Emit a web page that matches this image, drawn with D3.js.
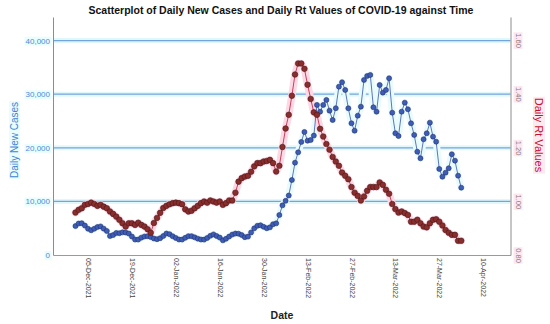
<!DOCTYPE html>
<html>
<head>
<meta charset="utf-8">
<script src="https://cdn.jsdelivr.net/npm/d3@7"></script>
<style>
  body { margin: 0; background: #fff; }
  svg { display: block; font-family: "Liberation Sans", Arial, sans-serif; }
</style>
</head>
<body>
<div id="chart"></div>
<script>
// Data, one value per day starting 01-Dec-2021
const startDate = "2021-12-01";

const dailyCases = [
  5400, 5870, 5930, 5490, 4900, 4620, 4900, 5220, 5330, 4920,
  4480, 3545, 3720, 4110, 4070, 4230, 4200, 4000, 3440, 2880,
  2880, 3240, 3460, 3510, 3350, 3080, 2950, 3140, 3545, 4010,
  3880, 3500, 3180, 2890, 2880, 3210, 3520, 3520, 3290, 3050,
  2890, 2870, 3180, 3580, 3840, 3550, 3250, 2740, 3030, 3440,
  3810, 4000, 3970, 3720, 3330, 3430, 4210, 4970, 5450, 5550,
  5250, 4990, 5160, 5740, 5900, 7460, 9260, 10100, 11100, 13990,
  17220, 19160, 21090, 22950, 21330, 21460, 22270, 28000, 26740, 28000,
  28930, 26930, 25190, 27380, 31400, 32225, 30790, 27370, 24575, 23195,
  25990, 27670, 32655, 33400, 33590, 27560, 26740, 31720, 30290, 30790,
  32970, 26550, 22710, 22205, 26740, 28420, 27190, 24575, 22400, 19275,
  18040, 21590, 22710, 24690, 22075, 21140, 16050, 14610, 15360, 16180,
  18790, 17600, 14800, 12560
];

const dailyRt = [
  0.958, 0.968, 0.974, 0.987, 0.990, 0.995, 0.990, 0.983, 0.987, 0.980,
  0.974, 0.962, 0.953, 0.943, 0.931, 0.918, 0.906, 0.918, 0.918, 0.912,
  0.920, 0.912, 0.906, 0.896, 0.883, 0.919, 0.938, 0.957, 0.975, 0.983,
  0.989, 0.993, 0.995, 0.993, 0.989, 0.970, 0.962, 0.965, 0.974, 0.983,
  0.993, 0.999, 0.995, 1.003, 0.999, 0.995, 0.999, 0.987, 0.993, 1.003,
  1.003, 1.032, 1.073, 1.086, 1.092, 1.095, 1.110, 1.130, 1.142, 1.142,
  1.148, 1.150, 1.154, 1.142, 1.111, 1.132, 1.202, 1.271, 1.322, 1.393,
  1.472, 1.513, 1.513, 1.493, 1.434, 1.381, 1.331, 1.322, 1.270, 1.241,
  1.213, 1.192, 1.165, 1.148, 1.132, 1.107, 1.095, 1.082, 1.053, 1.032,
  1.020, 1.003, 1.018, 1.039, 1.053, 1.053, 1.053, 1.070, 1.061, 1.043,
  1.028, 0.990, 0.971, 0.958, 0.962, 0.956, 0.949, 0.924, 0.924, 0.931,
  0.918, 0.906, 0.903, 0.918, 0.931, 0.933, 0.924, 0.910, 0.893, 0.883,
  0.875, 0.875, 0.853, 0.853
];

const dateTicks = [
  "05-Dec-2021", "19-Dec-2021", "02-Jan-2022", "16-Jan-2022", "30-Jan-2022",
  "13-Feb-2022", "27-Feb-2022", "13-Mar-2022", "27-Mar-2022", "10-Apr-2022"
];
const casesTicks = [0, 10000, 20000, 30000, 40000];
const rtTicks = [0.8, 1.0, 1.2, 1.4, 1.6];
const xDomain = ["2021-11-23T20:00", "2022-04-18T17:00"];
const casesDomain = [0, 44400];
const rtDomain = [0.8, 1.686];

function draw() {
  const dimensions = {
    width: 550,
    height: 324,
    margins: { top: 17, right: 39.5, bottom: 69, left: 53 },
  };
  const m = dimensions.margins;
  const bottom = dimensions.height - m.bottom;
  const right = dimensions.width - m.right;

  const parseTick = d3.utcParse("%d-%b-%Y");
  const parseIso = d3.utcParse("%Y-%m-%dT%H:%M");
  const day0 = d3.utcParse("%Y-%m-%d")(startDate);

  const rows = dailyCases.map((c, i) => ({
    date: d3.utcDay.offset(day0, i),
    cases: c,
    rt: dailyRt[i],
  }));

  const svg = d3
    .select("#chart")
    .append("svg")
    .attr("width", dimensions.width)
    .attr("height", dimensions.height);

  const xScale = d3
    .scaleUtc()
    .domain(xDomain.map(parseIso))
    .range([m.left, right]);
  const yCases = d3.scaleLinear().domain(casesDomain).range([bottom, m.top]);
  const yRt = d3.scaleLinear().domain(rtDomain).range([bottom, m.top]);

  // gridlines with their pale halo
  const grid = svg.append("g");
  casesTicks.slice(1).forEach((t) => {
    grid
      .append("line")
      .attr("x1", m.left).attr("x2", right)
      .attr("y1", yCases(t)).attr("y2", yCases(t))
      .attr("stroke", "#e0f8fb")
      .attr("stroke-width", 5);
  });
  casesTicks.slice(1).forEach((t) => {
    grid
      .append("line")
      .attr("x1", m.left).attr("x2", right)
      .attr("y1", yCases(t)).attr("y2", yCases(t))
      .attr("stroke", "#74a4dc")
      .attr("stroke-width", 1.2);
  });

  const caseLine = d3.line().x((d) => xScale(d.date)).y((d) => yCases(d.cases));
  const rtLine = d3.line().x((d) => xScale(d.date)).y((d) => yRt(d.rt));

  // halos
  svg.append("path")
    .datum(rows)
    .attr("d", caseLine)
    .attr("fill", "none")
    .attr("stroke", "#e8fbfd")
    .attr("stroke-width", 7)
    .attr("stroke-linejoin", "round")
    .attr("stroke-linecap", "round");
  svg.append("path")
    .datum(rows)
    .attr("d", rtLine)
    .attr("fill", "none")
    .attr("stroke", "#fdd9e6")
    .attr("stroke-width", 7.5)
    .attr("stroke-linejoin", "round")
    .attr("stroke-linecap", "round");

  // cases series
  svg.append("path")
    .datum(rows)
    .attr("d", caseLine)
    .attr("fill", "none")
    .attr("stroke", "#4b66b8")
    .attr("stroke-width", 0.9);
  svg.append("g")
    .selectAll("circle")
    .data(rows)
    .join("circle")
    .attr("cx", (d) => xScale(d.date))
    .attr("cy", (d) => yCases(d.cases))
    .attr("r", 2.5)
    .attr("fill", "#3e5db6")
    .attr("stroke", "#23306e")
    .attr("stroke-width", 0.6);

  // Rt series
  svg.append("path")
    .datum(rows)
    .attr("d", rtLine)
    .attr("fill", "none")
    .attr("stroke", "#c52a46")
    .attr("stroke-width", 0.9);
  svg.append("g")
    .selectAll("circle")
    .data(rows)
    .join("circle")
    .attr("cx", (d) => xScale(d.date))
    .attr("cy", (d) => yRt(d.rt))
    .attr("r", 2.8)
    .attr("fill", "#8a2d2d")
    .attr("stroke", "#4a1717")
    .attr("stroke-width", 0.6);

  // light box behind a label, like the reference has
  const addBg = (sel, color) => {
    sel.each(function () {
      const node = this;
      const b = node.getBBox();
      d3.select(node.parentNode)
        .insert("rect", () => node)
        .attr("x", b.x - 1).attr("y", b.y)
        .attr("width", b.width + 2).attr("height", b.height)
        .attr("transform", d3.select(node).attr("transform"))
        .attr("fill", color);
    });
  };

  // axes
  const leftAxis = svg
    .append("g")
    .attr("transform", `translate(${m.left},0)`)
    .call(
      d3.axisLeft(yCases)
        .tickValues(casesTicks)
        .tickSize(0)
        .tickPadding(3)
        .tickFormat(d3.format(","))
    );
  leftAxis.select(".domain").attr("stroke", "#8c8c8c");
  leftAxis.selectAll("text")
    .attr("font-size", 8)
    .attr("font-family", "Liberation Sans, Arial, sans-serif")
    .attr("fill", "#4f8ad8");
  addBg(leftAxis.selectAll("text"), "#e8fdfd");

  const rightAxis = svg
    .append("g")
    .attr("transform", `translate(${right},0)`)
    .call(
      d3.axisRight(yRt)
        .tickValues(rtTicks)
        .tickSize(0)
        .tickFormat(d3.format(".2f"))
    );
  rightAxis.select(".domain").attr("stroke", "#8c8c8c");
  rightAxis.selectAll("text")
    .attr("x", 0)
    .attr("dy", 0)
    .attr("transform", "translate(5,0) rotate(90)")
    .attr("text-anchor", "middle")
    .attr("font-size", 7.5)
    .attr("font-family", "Liberation Sans, Arial, sans-serif")
    .attr("fill", "#8a7a80");
  addBg(rightAxis.selectAll("text"), "#fde8f0");

  const xAxis = svg
    .append("g")
    .attr("transform", `translate(0,${bottom})`)
    .call(
      d3.axisBottom(xScale)
        .tickValues(dateTicks.map(parseTick))
        .tickSize(0)
        .tickFormat(d3.utcFormat("%d-%b-%Y"))
    );
  xAxis.select(".domain").attr("stroke", "#9a9a9a");
  xAxis.selectAll("text")
    .attr("y", 0)
    .attr("x", 0)
    .attr("dy", "0.35em")
    .attr("transform", "translate(0,3) rotate(90)")
    .attr("text-anchor", "start")
    .attr("font-size", 7)
    .attr("font-family", "Liberation Sans, Arial, sans-serif")
    .attr("fill", "#444");

  // titles
  svg.append("text")
    .attr("x", 281)
    .attr("y", 13.5)
    .attr("text-anchor", "middle")
    .attr("font-size", 10.5)
    .attr("font-weight", "bold")
    .attr("fill", "#111")
    .text("Scatterplot of Daily New Cases and Daily Rt Values of COVID-19 against Time");

  svg.append("text")
    .attr("x", 282)
    .attr("y", 319)
    .attr("text-anchor", "middle")
    .attr("font-size", 10.5)
    .attr("font-weight", "bold")
    .attr("fill", "#222")
    .text("Date");

  const leftTitle = svg.append("text")
    .attr("transform", "translate(18,140) rotate(-90)")
    .attr("text-anchor", "middle")
    .attr("font-size", 10)
    .attr("fill", "#3d83d6")
    .text("Daily New Cases");
  addBg(leftTitle, "#eafdfd");

  const rightTitle = svg.append("text")
    .attr("transform", "translate(535,135) rotate(90)")
    .attr("text-anchor", "middle")
    .attr("font-size", 11)
    .attr("fill", "#c8102e")
    .text("Daily Rt Values");
  addBg(rightTitle, "#fdeaf1");
}

draw();
</script>
</body>
</html>
